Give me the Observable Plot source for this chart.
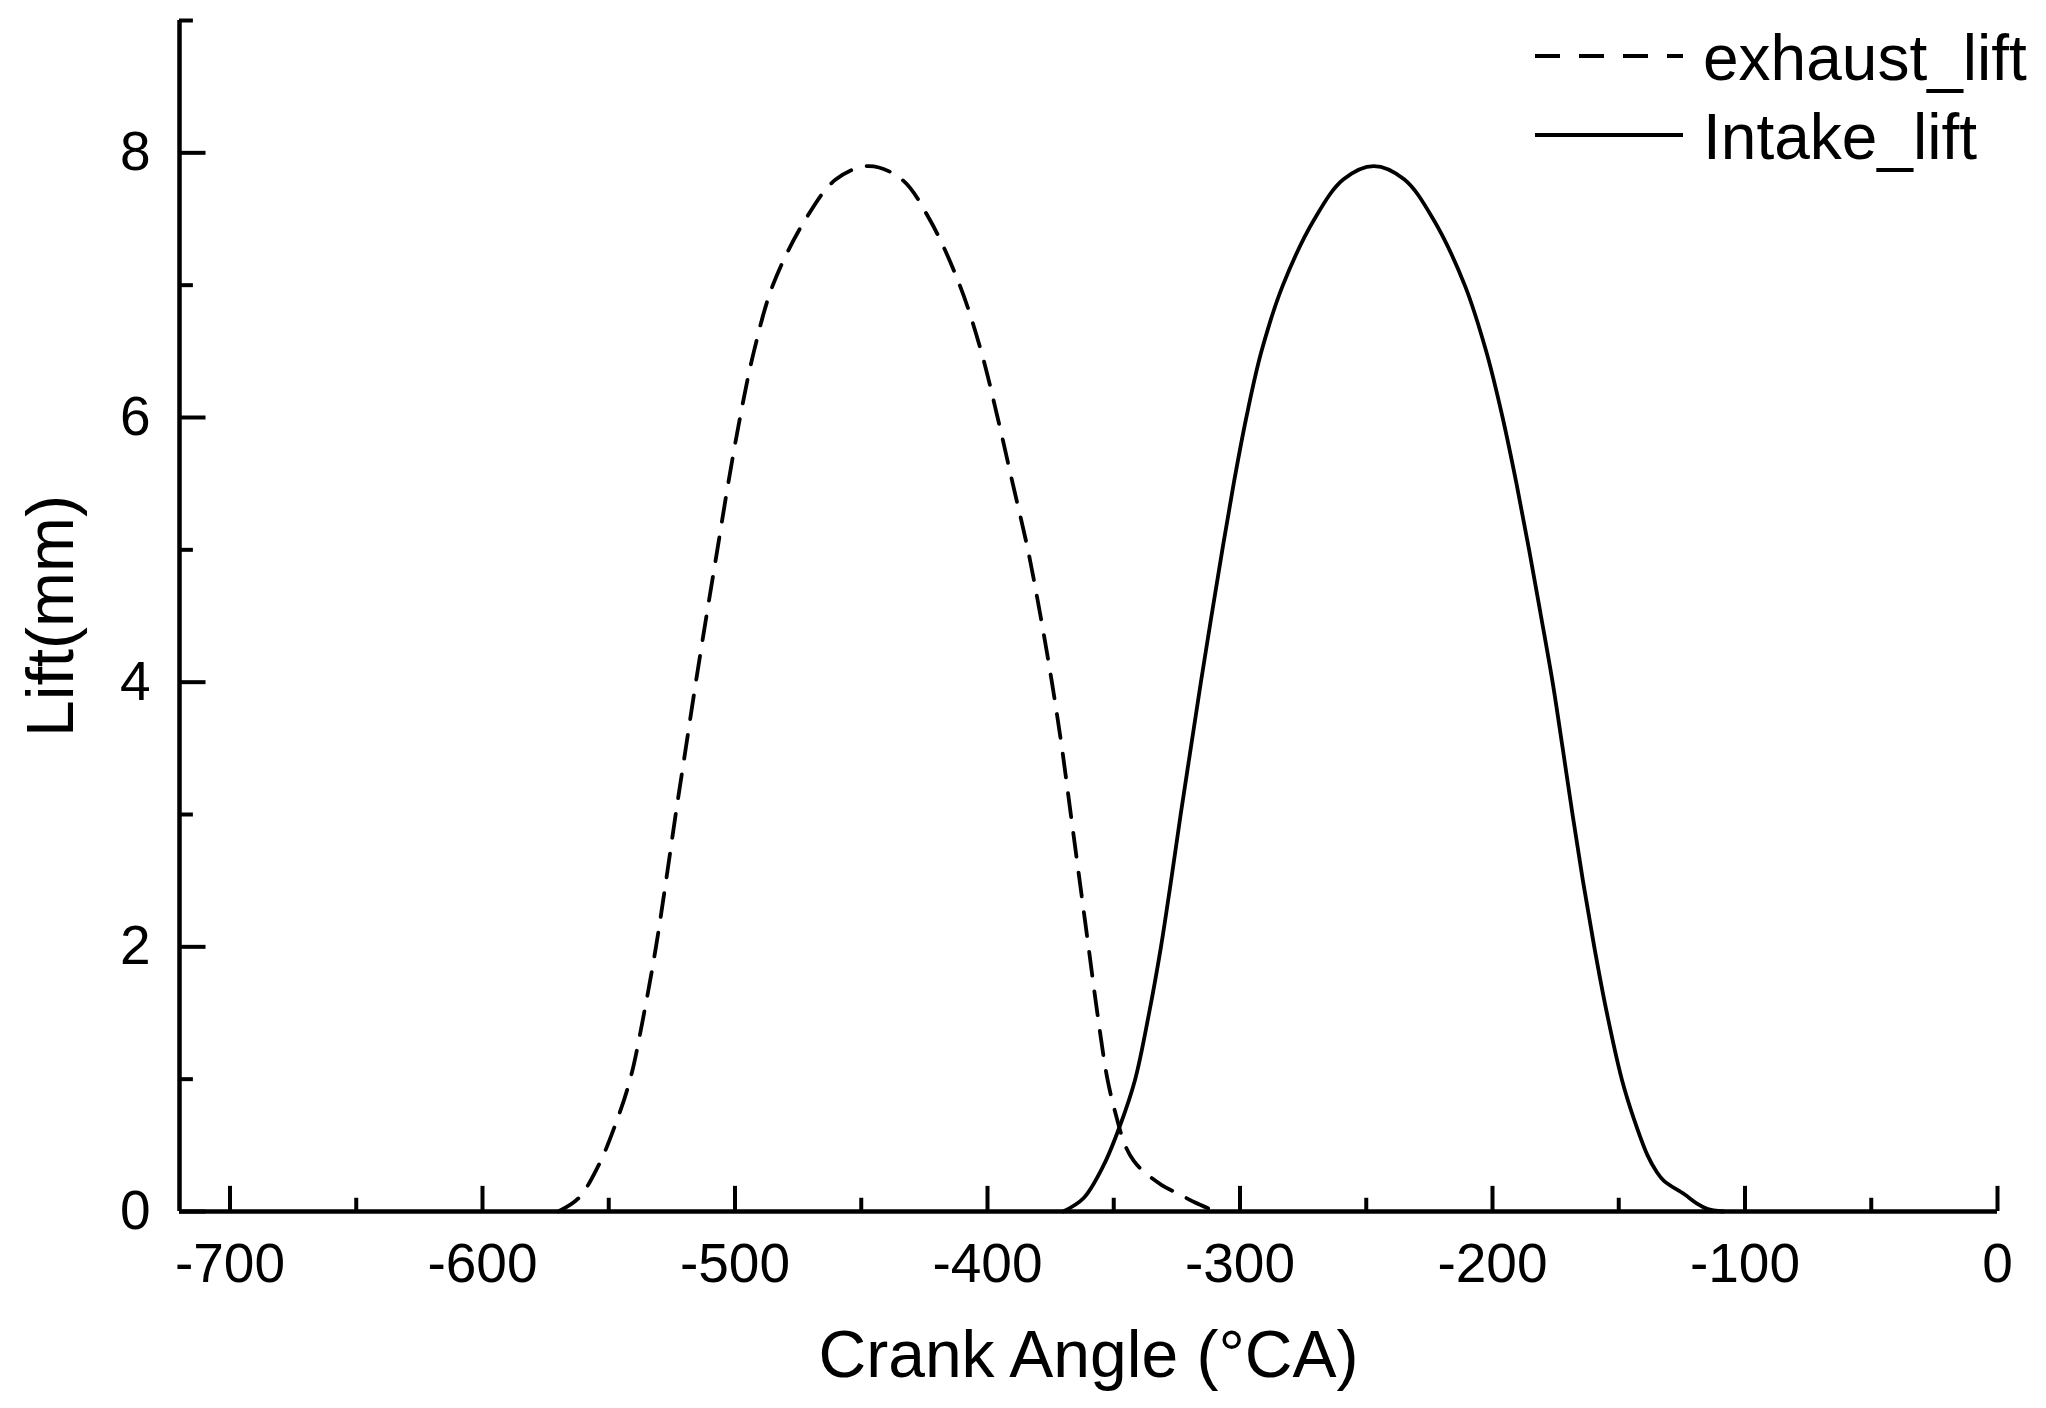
<!DOCTYPE html>
<html>
<head>
<meta charset="utf-8">
<script src="https://cdn.jsdelivr.net/npm/d3@7"></script>
<script src="https://cdn.jsdelivr.net/npm/@observablehq/plot@0.6"></script>
<style>
  html, body { margin: 0; padding: 0; background: #ffffff; }
  #wrap { position: relative; width: 2046px; height: 1408px; font-family: "Liberation Sans", Arial, sans-serif; }
  #legend { position: absolute; left: 1520px; top: 10px; }
</style>
</head>
<body>
<div id="wrap"></div>
<script>
// ---- data ----
const exhaustAngle = [-570, -562, -554, -547.5, -541.5, -536, -531.3, -527.3, -523.5, -519.5, -515.5, -511.3, -507, -502.7, -498, -492.5, -485, -472, -460, -447, -434, -423, -411, -402.5, -396, -390, -384, -379, -374.5, -370.5, -367, -363.5, -360, -356.5, -352.5, -349, -345.5, -342, -338, -331, -324, -318, -312];
const exhaustLift  = [0, 0.1, 0.35, 0.65, 1.0, 1.5, 2.0, 2.5, 3.0, 3.5, 4.0, 4.5, 5.0, 5.5, 6.0, 6.5, 7.0, 7.5, 7.8, 7.9, 7.8, 7.5, 7.0, 6.5, 6.0, 5.5, 5.0, 4.5, 4.0, 3.5, 3.0, 2.5, 2.0, 1.5, 1.0, 0.72, 0.5, 0.38, 0.3, 0.2, 0.13, 0.07, 0.02];

const intakeAngle = [-370, -362, -354, -347.5, -341.5, -336, -331.3, -327.3, -323.5, -319.5, -315.5, -311.3, -307, -302.5, -297.5, -291.5, -283, -270.5, -259, -247, -235, -223.5, -211, -202.5, -196, -190.5, -185.5, -180.8, -176.2, -172.2, -168.3, -164.2, -159.7, -154.7, -148.8, -144, -138.5, -135, -132, -124, -119, -115, -108.5];
const intakeLift  = [0, 0.1, 0.35, 0.65, 1.0, 1.5, 2.0, 2.5, 3.0, 3.5, 4.0, 4.5, 5.0, 5.5, 6.0, 6.5, 7.0, 7.5, 7.8, 7.9, 7.8, 7.5, 7.0, 6.5, 6.0, 5.5, 5.0, 4.5, 4.0, 3.5, 3.0, 2.5, 2.0, 1.5, 1.0, 0.7, 0.42, 0.3, 0.23, 0.13, 0.06, 0.02, 0];

const seriesNames = ["exhaust_lift", "Intake_lift"];
const xMajorTicks = [-700, -600, -500, -400, -300, -200, -100, 0];
const xMinorTicks = [-650, -550, -450, -350, -250, -150, -50];
const yMajorTicks = [0, 2, 4, 6, 8];
const yMinorTicks = [1, 3, 5, 7, 9];
const xTitle = "Crank Angle (°CA)";
const yTitle = "Lift(mm)";
const xDomain = [-720, 0];
const yDomain = [0, 9];

// ---- tables built from the arrays ----
const exhaust = exhaustAngle.map((a, i) => ({angle: a, lift: exhaustLift[i]}));
const intake = intakeAngle.map((a, i) => ({angle: a, lift: intakeLift[i]}));

const FONT = "'Liberation Sans', Arial, sans-serif";
const xMin = xDomain[0];

const chart = Plot.plot({
  width: 2046,
  height: 1408,
  marginLeft: 179,
  marginRight: 49,
  marginTop: 20,
  marginBottom: 197,
  style: {fontFamily: FONT, background: "#ffffff", color: "#000000", overflow: "visible"},
  x: {domain: xDomain},
  y: {domain: yDomain},
  marks: [
    // tick labels
    Plot.axisX({ticks: xMajorTicks, tickSize: 0, tickPadding: 31, tickFormat: d => String(d), fontSize: 55, label: null}),
    Plot.axisY({ticks: yMajorTicks, tickSize: 0, tickPadding: 29, tickFormat: d => String(d), fontSize: 55, label: null}),
    // inward ticks
    Plot.ruleX(xMajorTicks, {x: d => d, y1: 0, y2: 0.19, stroke: "#000", strokeWidth: 4}),
    Plot.ruleX(xMinorTicks, {x: d => d, y1: 0, y2: 0.1, stroke: "#000", strokeWidth: 4}),
    Plot.ruleY(yMajorTicks, {y: d => d, x1: xMin, x2: xMin + 10.5, stroke: "#000", strokeWidth: 4}),
    Plot.ruleY(yMinorTicks, {y: d => d, x1: xMin, x2: xMin + 5.5, stroke: "#000", strokeWidth: 4}),
    // axis lines
    Plot.ruleY([0], {stroke: "#000", strokeWidth: 4.5}),
    Plot.ruleX([xMin], {stroke: "#000", strokeWidth: 4.5}),
    // curves
    Plot.line(exhaust, {x: "angle", y: "lift", stroke: "#000", strokeWidth: 3.8, strokeDasharray: "24,16", curve: "catmull-rom"}),
    Plot.line(intake, {x: "angle", y: "lift", stroke: "#000", strokeWidth: 3.8, curve: "catmull-rom"}),
    // axis titles
    Plot.text([xTitle], {text: d => d, frameAnchor: "bottom", lineAnchor: "bottom", textAnchor: "middle", dy: 165, fontSize: 66, fill: "#000"}),
    Plot.text([yTitle], {text: d => d, frameAnchor: "left", textAnchor: "middle", lineAnchor: "middle", dx: -128, rotate: -90, fontSize: 66, fill: "#000"})
  ]
});

const wrap = document.getElementById("wrap");
wrap.appendChild(chart);

// ---- legend (top-right) ----
const ns = "http://www.w3.org/2000/svg";
const leg = document.createElementNS(ns, "svg");
leg.setAttribute("id", "legend");
leg.setAttribute("width", "526");
leg.setAttribute("height", "170");
const styles = [{dash: "25,19"}, {dash: null}];
seriesNames.forEach((name, i) => {
  const cy = 46 + i * 79;
  const ln = document.createElementNS(ns, "line");
  ln.setAttribute("x1", 15);
  ln.setAttribute("x2", 163);
  ln.setAttribute("y1", cy);
  ln.setAttribute("y2", cy);
  ln.setAttribute("stroke", "#000");
  ln.setAttribute("stroke-width", "4");
  if (styles[i].dash) ln.setAttribute("stroke-dasharray", styles[i].dash);
  leg.appendChild(ln);
  const tx = document.createElementNS(ns, "text");
  tx.setAttribute("x", 183);
  tx.setAttribute("y", cy + 24);
  tx.setAttribute("font-size", "64");
  tx.setAttribute("font-family", FONT);
  tx.setAttribute("fill", "#000");
  tx.textContent = name;
  leg.appendChild(tx);
});
wrap.appendChild(leg);
</script>
</body>
</html>
